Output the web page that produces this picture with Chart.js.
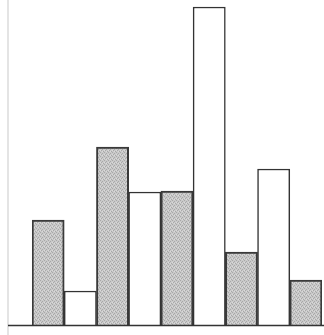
<!DOCTYPE html>
<html>
<head>
<meta charset="utf-8">
<script src="https://cdn.jsdelivr.net/npm/chart.js@4/dist/chart.umd.min.js"></script>
<style>
html,body{margin:0;padding:0;background:#fff;}
#wrap{width:324px;height:335px;position:relative;}
</style>
</head>
<body>
<div id="wrap"><canvas id="c" width="324" height="335"></canvas></div>
<script>
const categories = ['1','2','3','4','5','6','7','8','9'];
const values = [105, 34, 178, 133, 134, 318, 73, 156, 45];
const shaded = [true, false, true, false, true, false, true, false, true];

function stipple(){
  const p = document.createElement('canvas');
  p.width = 4; p.height = 4;
  const g = p.getContext('2d');
  g.fillStyle = '#c9c9c9'; g.fillRect(0,0,4,4);
  g.fillStyle = '#a8a8a8';
  g.fillRect(0,0,1,1); g.fillRect(2,1,1,1); g.fillRect(1,2,1,1); g.fillRect(3,3,1,1);
  g.fillStyle = '#dadada';
  g.fillRect(2,3,1,1); g.fillRect(0,2,1,1);
  return g.createPattern(p,'repeat');
}
const ctx = document.getElementById('c').getContext('2d');
const pat = stipple();

const framePlugin = {
  id:'frame',
  beforeDatasetsDraw(chart){
    const c = chart.ctx;
    const y0 = chart.scales.y.getPixelForValue(0);
    c.save();
    c.strokeStyle = '#e4e4e4'; c.lineWidth = 2;
    c.beginPath(); c.moveTo(8,0); c.lineTo(8,335); c.stroke();
    c.restore();
  },
  afterDatasetsDraw(chart){
    const c = chart.ctx;
    const y0 = chart.scales.y.getPixelForValue(0);
    c.save();
    c.strokeStyle = '#333'; c.lineWidth = 1.5;
    c.beginPath(); c.moveTo(8,y0+0.5); c.lineTo(324,y0+0.5); c.stroke();
    c.restore();
  }
};

new Chart(ctx, {
  type:'bar',
  data:{
    labels: categories,
    datasets:[{
      data: values,
      backgroundColor: shaded.map(s => s ? pat : '#ffffff'),
      borderColor: shaded.map(s => s ? '#3a3a3a' : '#333333'),
      borderWidth: shaded.map(s => s ? 2 : 1.5),
      borderSkipped: 'bottom',
      barPercentage: 1,
      categoryPercentage: 1
    }]
  },
  options:{
    responsive:false,
    animation:false,
    layout:{padding:{left:32, right:2, top:5, bottom:10}},
    plugins:{legend:{display:false}, tooltip:{enabled:false}},
    scales:{
      x:{display:false, offset:true},
      y:{display:false, min:0, max:320}
    }
  },
  plugins:[framePlugin]
});
</script>
</body>
</html>
